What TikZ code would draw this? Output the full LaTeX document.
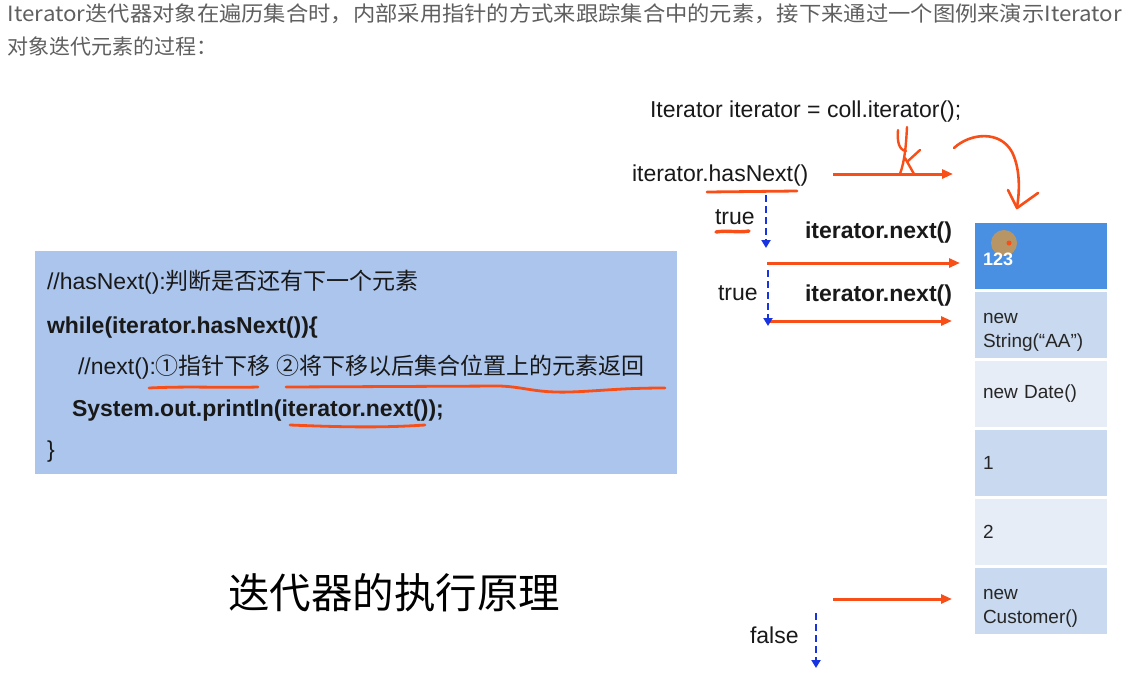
\documentclass[tikz,border=0pt]{standalone}
\usepackage{fontspec}
\setmainfont{Liberation Sans}
\newfontfamily\cjk{Noto Sans CJK SC}
\usetikzlibrary{arrows.meta}
\definecolor{orangeR}{RGB}{248,78,24}
\definecolor{blueD}{RGB}{24,52,225}
\definecolor{cellA}{RGB}{74,144,226}
\definecolor{cellB}{RGB}{201,217,239}
\definecolor{cellC}{RGB}{230,237,247}
\definecolor{codebg}{RGB}{172,197,236}
\definecolor{topgray}{RGB}{95,95,95}
\definecolor{blob}{RGB}{196,150,88}
\newcommand\zhtxt[1]{{\cjk #1}}
\begin{document}
\begin{tikzpicture}[x=1pt,y=-1pt,
  every node/.style={inner sep=0pt, outer sep=0pt},
  lbl/.style={anchor=base west, font=\fontsize{23}{27}\selectfont, text=black!90},
  nextlbl/.style={anchor=base west, font=\bfseries\fontsize{23}{27}\selectfont, text=black!90},
  codeline/.style={anchor=base west, font=\fontsize{23}{27}\selectfont, text=black!90},
  cellbox/.style={minimum width=132pt, minimum height=66pt, text width=116pt, inner xsep=8pt,
    align=left, anchor=north west, font=\fontsize{19}{24}\selectfont, text=black!85},
  redarrow/.style={draw=orangeR, line width=3pt, -{Triangle[length=11pt,width=9pt]}},
  bluearrow/.style={draw=blueD, line width=2.8pt, dash pattern=on 7pt off 4pt, -{Triangle[length=8pt,width=9pt]}},
  hand/.style={draw=orangeR, line width=2.8pt, line cap=round, line join=round},
]
\fill[white] (0,0) rectangle (1128,673);
\useasboundingbox (0,0) rectangle (1128,673);

% top paragraph
\node (top1) [anchor=base west, text=topgray] at (8,21)
  {\resizebox{1114pt}{\height}{\cjk\fontsize{21}{25}\selectfont Iterator迭代器对象在遍历集合时，内部采用指针的方式来跟踪集合中的元素，接下来通过一个图例来演示Iterator}};
\node (top2) [anchor=base west, text=topgray, font=\cjk\fontsize{21}{25}\selectfont] at (8,54) {对象迭代元素的过程：};

% code box
\node (code) [fill=codebg, minimum width=642pt, minimum height=223pt, anchor=north west] at (35,251) {};
\node (c1) [codeline] at (47,289) {//hasNext():\zhtxt{判断是否还有下一个元素}};
\node (c2) [codeline, font=\bfseries\fontsize{23}{27}\selectfont] at (47,333) {while(iterator.hasNext())\{};
\node (c3) [codeline] at (78,374) {//next():\zhtxt{①指针下移 ②将下移以后集合位置上的元素返回}};
\node (c4) [codeline, font=\bfseries\fontsize{23}{27}\selectfont] at (72,416) {System.out.println(iterator.next());};
\node (c5) [codeline] at (47,457) {\}};

% title
\node (title) [anchor=base west, font=\cjk\fontsize{41.5}{45}\selectfont, text=black] at (228,608) {迭代器的执行原理};

% labels
\node (init) [lbl] at (650,117) {Iterator iterator = coll.iterator();};
\node (hasnext) [lbl] at (632,181) {iterator.hasNext()};
\node (true1) [lbl] at (715,224) {true};
\node (next1) [nextlbl] at (805,238) {iterator.next()};
\node (true2) [lbl] at (718,300) {true};
\node (next2) [nextlbl] at (805,301) {iterator.next()};
\node (false) [lbl] at (750,643) {false};

% collection cells
\node (cell1) [cellbox, fill=cellA] at (975,223) {\phantom{1}};
\node (cell2) [cellbox, fill=cellB] at (975,292) {\rule{0pt}{24pt}new\\String(“AA”)};
\node (cell3) [cellbox, fill=cellC] at (975,361) {new Date()};
\node (cell4) [cellbox, fill=cellB] at (975,430) {1};
\node (cell5) [cellbox, fill=cellC] at (975,499) {2};
\node (cell6) [cellbox, fill=cellB] at (975,568) {\rule{0pt}{24pt}new\\Customer()};

% cursor highlight in first cell
\fill[blob, opacity=0.9] (1004,243) circle (13);
\fill[orangeR] (1009,243) circle (2.5);
\node (n123) [anchor=base west, font=\bfseries\fontsize{18}{20}\selectfont, text=white] at (983,265) {123};

% connector end points
\coordinate (a0s) at (833,174); \coordinate (a0e) at (953,174);
\coordinate (a1s) at (767,263); \coordinate (a1e) at (960,263);
\coordinate (a2s) at (770,321); \coordinate (a2e) at (952,321);
\coordinate (a3s) at (833,599); \coordinate (a3e) at (952,599);
\coordinate (b1s) at (766,195); \coordinate (b1e) at (766,248);
\coordinate (b2s) at (768,270); \coordinate (b2e) at (768,326);
\coordinate (b3s) at (816,613); \coordinate (b3e) at (816,668);

\draw[redarrow] (a0s) -- (a0e);
\draw[redarrow] (a1s) -- (a1e);
\draw[redarrow] (a2s) -- (a2e);
\draw[redarrow] (a3s) -- (a3e);
\draw[bluearrow] (b1s) -- (b1e);
\draw[bluearrow] (b2s) -- (b2e);
\draw[bluearrow] (b3s) -- (b3e);

% handwritten annotations
\draw[hand] (707,192) -- (797,191);
\draw[hand, line width=3.4pt] (716,232) .. controls (728,230) and (738,233) .. (749,231);
\draw[hand] (149,388) .. controls (190,386) and (220,388) .. (258,387);
\draw[hand] (286,387) -- (500,386) .. controls (525,387) and (535,393) .. (570,392) .. controls (600,391) and (620,388) .. (665,388);
\draw[hand] (290,425) .. controls (340,427) and (380,428) .. (425,425);
% "4 x" mark
\draw[hand, line width=2.4pt] (898,130) .. controls (897,142) and (899,150) .. (906,151);
\draw[hand, line width=2.4pt] (907,127) .. controls (906,145) and (905,160) .. (900,174);
\draw[hand, line width=2.4pt] (905,158) -- (914,174);
\draw[hand, line width=2.4pt] (908,161) -- (920,150);
% curved arrow to the collection
\draw[hand, line width=2.6pt] (954,148) .. controls (970,133) and (1000,130) .. (1012,152) .. controls (1020,168) and (1020,190) .. (1017,207);
\draw[hand, line width=2.6pt] (1008,190) -- (1017,208) -- (1038,193);
\end{tikzpicture}
\end{document}
